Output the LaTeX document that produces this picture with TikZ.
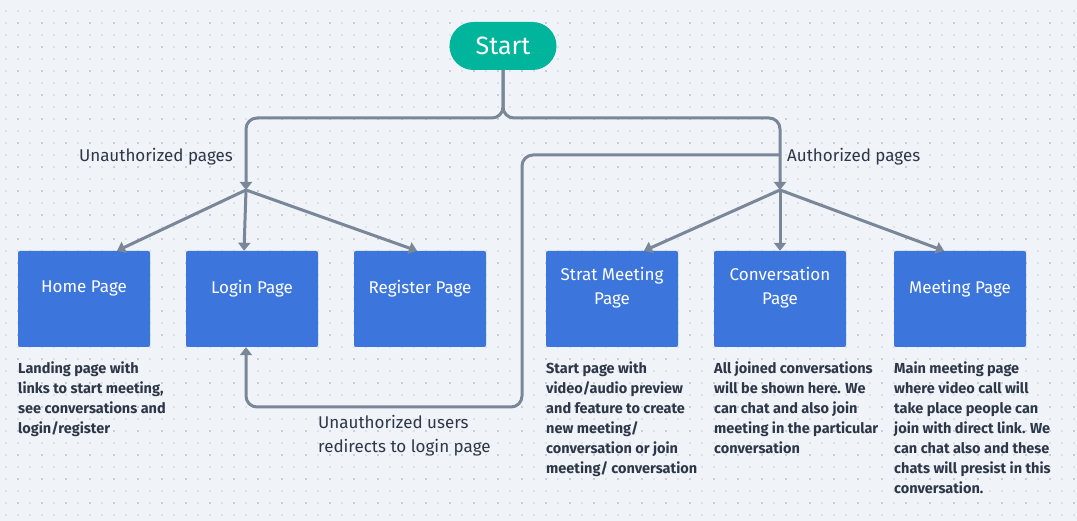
\documentclass[tikz,border=0pt]{standalone}
\usepackage{fontspec}
\setmainfont{Fira Sans}
\usetikzlibrary{arrows.meta}

\definecolor{bgcol}{HTML}{F0F3F7}
\definecolor{dotlight}{HTML}{DDE2EA}
\definecolor{dotdark}{HTML}{C6CCDB}
\definecolor{startcol}{HTML}{00B59C}
\definecolor{pagecol}{HTML}{3C76DC}
\definecolor{linkcol}{HTML}{7A8799}
\definecolor{textcol}{HTML}{2D3748}

\begin{document}
\begin{tikzpicture}[x=1pt,y=-1pt,>={Triangle[width=12pt,length=8pt]},
	page/.style={fill=pagecol,rounded corners=2pt,minimum width=132pt,minimum height=96pt,inner sep=0pt},
	pagetext/.style={text=white,font=\fontsize{17}{24}\selectfont,align=center,inner sep=0pt},
	desc/.style={text=textcol,font=\bfseries\fontsize{14.5}{20}\selectfont,align=left,inner sep=0pt,anchor=north west},
	note/.style={text=textcol,font=\fontsize{17}{24}\selectfont,align=left,inner sep=0pt},
	link/.style={draw=linkcol,line width=3pt,rounded corners=11pt}]
		
		% Background with dotted grid
		\fill[bgcol] (0,0) rectangle (1077,521);
		\useasboundingbox (0,0) rectangle (1077,521);
		\foreach \x in {6,18,...,1074}
			\foreach \y in {11,23,...,515}
				\fill[dotlight] (\x-1,\y-1) rectangle ++(2,2);
		\foreach \x in {18,42,...,1074}
			\foreach \y in {23,47,...,515}
				\fill[dotdark] (\x-1,\y-1) rectangle ++(2,2);
		
		% Start
		\node[fill=startcol,rounded corners=24pt,minimum width=107pt,minimum height=48pt,
			text=white,font=\fontsize{25}{28}\selectfont] (start) at (503,46) {Start};
		
		% Pages
		\node[page] (home) at (84,299) {};
		\node[page] (login) at (252,299) {};
		\node[page] (register) at (420,299) {};
		\node[page] (strat) at (612,299) {};
		\node[page] (conv) at (780,299) {};
		\node[page] (meeting) at (960,299) {};
		
		\node[pagetext] (hometext) at ([yshift=-38pt]home.north) {Home Page};
		\node[pagetext] (logintext) at ([yshift=-38pt]login.north) {Login Page};
		\node[pagetext] (registertext) at ([yshift=-38pt]register.north) {Register Page};
		\node[pagetext] (strattext) at ([yshift=-37pt]strat.north) {Strat Meeting\\Page};
		\node[pagetext] (convtext) at ([yshift=-37pt]conv.north) {Conversation\\Page};
		\node[pagetext] (meetingtext) at ([yshift=-38pt]meeting.north) {Meeting Page};
		
		% Split into the two groups
		\coordinate (unauth) at (246,190);
		\coordinate (auth) at (780,190);
		\draw[link,->] (start.south) |- (unauth |- 0,118) -- (unauth);
		\draw[link,->] (start.south) |- (auth |- 0,118) -- (auth);
		
		\node[note,anchor=east] (unauthlabel) at (233,157) {Unauthorized pages};
		\node[note,anchor=west] (authlabel) at (787,157) {Authorized pages};
		
		% Arrows to the pages
		\draw[link,->] (unauth) -- ([xshift=33pt]home.north);
		\draw[link,->] (unauth) -- ([xshift=-8pt]login.north);
		\draw[link,->] (unauth) -- ([xshift=-3pt]register.north);
		\draw[link,->] (auth) -- ([xshift=32pt]strat.north);
		\draw[link,->] (auth) -- (conv.north);
		\draw[link,->] (auth) -- ([xshift=-16pt]meeting.north);
		
		% Redirect to login
		\coordinate (redirect) at (780,155);
		\draw[link,->] (redirect) -- (522,155) -- (522,407) -- (246,407) -- ([xshift=-6pt]login.south);
		\node[note,anchor=north west] (redirectlabel) at (318,415) {Unauthorized users\\redirects to login page};
		
		% Descriptions
		\node[desc] (homedesc) at (18,362) {Landing page with\\links to start meeting,\\see conversations and\\login/register};
		\node[desc] (stratdesc) at (546,362) {Start page with\\video/audio preview\\and feature to create\\new meeting/\\conversation or join\\meeting/ conversation};
		\node[desc] (convdesc) at (714,362) {All joined conversations\\will be shown here. We\\can chat and also join\\meeting in the particular\\conversation};
		\node[desc] (meetingdesc) at (894,362) {Main meeting page\\where video call will\\take place people can\\join with direct link. We\\can chat also and these\\chats will presist in this\\conversation.};
		
	\end{tikzpicture}
\end{document}
